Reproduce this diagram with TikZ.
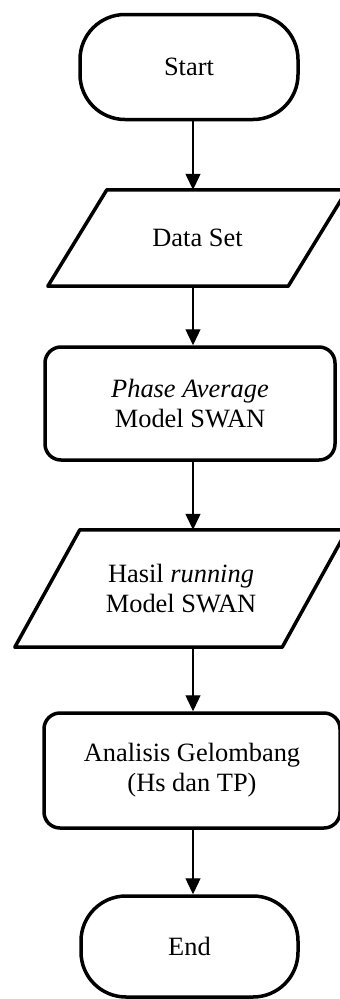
\documentclass[tikz,border=0pt]{standalone}
\usepackage{fontspec}
\setmainfont{Liberation Serif}
\usetikzlibrary{arrows.meta}
\begin{document}
\begin{tikzpicture}[x=1pt,y=-1pt,
  box/.style={line width=3.5pt, line join=round},
  lbl/.style={align=center, inner sep=0pt, font=\fontsize{26.4}{30}\selectfont},
  term/.style={lbl, box, draw, rounded corners=45pt},
  proc/.style={lbl, box, draw, rounded corners=16pt},
  io/.style={lbl, draw=none},
  arr/.style={line width=1.3pt, -{Triangle[length=16pt,width=15pt]}}]
\clip (0,0) rectangle (340,999);
\fill[white] (0,0) rectangle (340,999);
\coordinate (axis) at (193,0);

\node[term, minimum width=218pt, minimum height=105pt] (start) at (189,67) {Start};

\node[io, minimum width=240pt, minimum height=96pt] (data) at (197.5,238) {Data Set};
\draw[box] ([xshift=-29.5pt]data.south west) -- ([xshift=29.5pt]data.north west)
  -- ([xshift=29.5pt]data.north east) -- ([xshift=-29.5pt]data.south east) -- cycle;

\node[proc, minimum width=290pt, minimum height=113pt] (phase) at (190,403.5)
  {\textit{Phase Average}\\Model SWAN};

\node[io, minimum width=267pt, minimum height=117pt] (hasil) at (181,588.5)
  {Hasil \textit{running}\\Model SWAN};
\draw[box] ([xshift=-32.5pt]hasil.south west) -- ([xshift=32.5pt]hasil.north west)
  -- ([xshift=32.5pt]hasil.north east) -- ([xshift=-32.5pt]hasil.south east) -- cycle;

\node[proc, minimum width=296pt, minimum height=115pt] (anal) at (192,770.5)
  {Analisis Gelombang\\(Hs dan TP)};

\node[term, minimum width=217pt, minimum height=101pt] (end) at (189.5,946.5) {End};

\draw[arr] (start.south -| axis) -- (data.north -| axis);
\draw[arr] (data.south -| axis) -- (phase.north -| axis);
\draw[arr] (phase.south -| axis) -- (hasil.north -| axis);
\draw[arr] (hasil.south -| axis) -- (anal.north -| axis);
\draw[arr] (anal.south -| axis) -- (end.north -| axis);
\end{tikzpicture}
\end{document}
